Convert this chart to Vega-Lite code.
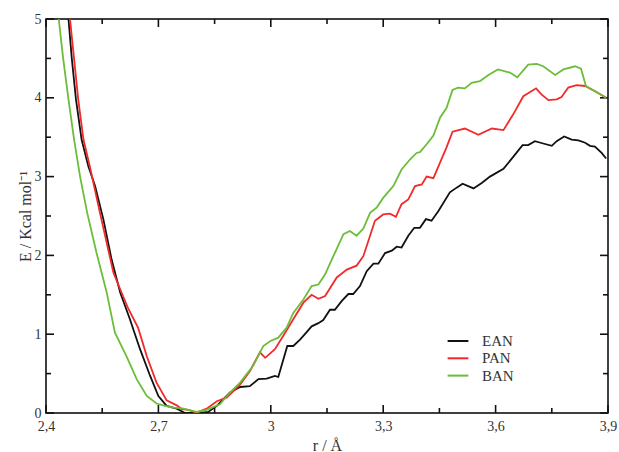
{
  "$schema": "https://vega.github.io/schema/vega-lite/v6.json",
  "width": 562,
  "height": 394,
  "autosize": "none",
  "padding": {"left": 46, "top": 19, "right": 11, "bottom": 39},
  "background": "white",
  "config": {
    "view": {"stroke": "#000", "strokeWidth": 1.5},
    "font": "'Liberation Serif', 'Times New Roman', serif",
    "axis": {"labelFont": "'Liberation Serif', 'Times New Roman', serif", "titleFont": "'Liberation Serif', 'Times New Roman', serif", "labelColor": "#333", "titleColor": "#333", "titleFontWeight": "normal", "grid": false, "domain": false, "ticks": false},
    "legend": {"labelFont": "'Liberation Serif', 'Times New Roman', serif"}
  },
  "datasets": {
    "xt": [{"v":2.4,"k":"major"},{"v":2.55,"k":"minor"},{"v":2.7,"k":"major"},{"v":2.85,"k":"minor"},{"v":3.0,"k":"major"},{"v":3.15,"k":"minor"},{"v":3.3,"k":"major"},{"v":3.45,"k":"minor"},{"v":3.6,"k":"major"},{"v":3.75,"k":"minor"},{"v":3.9,"k":"major"}],
    "yt": [{"v":0,"k":"major"},{"v":0.5,"k":"minor"},{"v":1,"k":"major"},{"v":1.5,"k":"minor"},{"v":2,"k":"major"},{"v":2.5,"k":"minor"},{"v":3,"k":"major"},{"v":3.5,"k":"minor"},{"v":4,"k":"major"},{"v":4.5,"k":"minor"},{"v":5,"k":"major"}],
    "curves": [
    {"r":2.46,"E":5.0,"s":"EAN"},{"r":2.469,"E":4.49,"s":"EAN"},{"r":2.48,"E":3.98,"s":"EAN"},{"r":2.495,"E":3.47,"s":"EAN"},{"r":2.513,"E":3.13,"s":"EAN"},{"r":2.531,"E":2.88,"s":"EAN"},{"r":2.553,"E":2.46,"s":"EAN"},{"r":2.575,"E":1.95,"s":"EAN"},{"r":2.598,"E":1.53,"s":"EAN"},{"r":2.624,"E":1.19,"s":"EAN"},{"r":2.651,"E":0.81,"s":"EAN"},{"r":2.678,"E":0.47,"s":"EAN"},{"r":2.70,"E":0.216,"s":"EAN"},{"r":2.722,"E":0.09,"s":"EAN"},{"r":2.749,"E":0.055,"s":"EAN"},{"r":2.771,"E":0.0,"s":"EAN"},{"r":2.811,"E":0.0,"s":"EAN"},{"r":2.833,"E":0.013,"s":"EAN"},{"r":2.856,"E":0.09,"s":"EAN"},{"r":2.891,"E":0.26,"s":"EAN"},{"r":2.918,"E":0.33,"s":"EAN"},{"r":2.944,"E":0.34,"s":"EAN"},{"r":2.967,"E":0.43,"s":"EAN"},{"r":2.989,"E":0.435,"s":"EAN"},{"r":3.011,"E":0.47,"s":"EAN"},{"r":3.02,"E":0.457,"s":"EAN"},{"r":3.044,"E":0.85,"s":"EAN"},{"r":3.06,"E":0.85,"s":"EAN"},{"r":3.078,"E":0.93,"s":"EAN"},{"r":3.091,"E":1.0,"s":"EAN"},{"r":3.109,"E":1.10,"s":"EAN"},{"r":3.127,"E":1.14,"s":"EAN"},{"r":3.14,"E":1.18,"s":"EAN"},{"r":3.158,"E":1.31,"s":"EAN"},{"r":3.171,"E":1.31,"s":"EAN"},{"r":3.189,"E":1.42,"s":"EAN"},{"r":3.207,"E":1.51,"s":"EAN"},{"r":3.22,"E":1.51,"s":"EAN"},{"r":3.238,"E":1.61,"s":"EAN"},{"r":3.256,"E":1.80,"s":"EAN"},{"r":3.274,"E":1.895,"s":"EAN"},{"r":3.287,"E":1.895,"s":"EAN"},{"r":3.305,"E":2.03,"s":"EAN"},{"r":3.323,"E":2.06,"s":"EAN"},{"r":3.336,"E":2.11,"s":"EAN"},{"r":3.349,"E":2.10,"s":"EAN"},{"r":3.367,"E":2.25,"s":"EAN"},{"r":3.383,"E":2.35,"s":"EAN"},{"r":3.398,"E":2.35,"s":"EAN"},{"r":3.414,"E":2.46,"s":"EAN"},{"r":3.429,"E":2.44,"s":"EAN"},{"r":3.447,"E":2.56,"s":"EAN"},{"r":3.478,"E":2.80,"s":"EAN"},{"r":3.496,"E":2.86,"s":"EAN"},{"r":3.512,"E":2.91,"s":"EAN"},{"r":3.541,"E":2.85,"s":"EAN"},{"r":3.563,"E":2.92,"s":"EAN"},{"r":3.585,"E":3.0,"s":"EAN"},{"r":3.621,"E":3.10,"s":"EAN"},{"r":3.647,"E":3.25,"s":"EAN"},{"r":3.672,"E":3.40,"s":"EAN"},{"r":3.687,"E":3.40,"s":"EAN"},{"r":3.705,"E":3.45,"s":"EAN"},{"r":3.727,"E":3.42,"s":"EAN"},{"r":3.75,"E":3.39,"s":"EAN"},{"r":3.763,"E":3.45,"s":"EAN"},{"r":3.783,"E":3.51,"s":"EAN"},{"r":3.803,"E":3.47,"s":"EAN"},{"r":3.821,"E":3.46,"s":"EAN"},{"r":3.839,"E":3.43,"s":"EAN"},{"r":3.852,"E":3.39,"s":"EAN"},{"r":3.865,"E":3.38,"s":"EAN"},{"r":3.883,"E":3.30,"s":"EAN"},{"r":3.895,"E":3.23,"s":"EAN"},
    {"r":2.464,"E":5.0,"s":"PAN"},{"r":2.475,"E":4.49,"s":"PAN"},{"r":2.486,"E":3.98,"s":"PAN"},{"r":2.50,"E":3.47,"s":"PAN"},{"r":2.517,"E":3.13,"s":"PAN"},{"r":2.544,"E":2.54,"s":"PAN"},{"r":2.562,"E":2.16,"s":"PAN"},{"r":2.58,"E":1.78,"s":"PAN"},{"r":2.598,"E":1.57,"s":"PAN"},{"r":2.62,"E":1.32,"s":"PAN"},{"r":2.646,"E":1.08,"s":"PAN"},{"r":2.669,"E":0.72,"s":"PAN"},{"r":2.695,"E":0.385,"s":"PAN"},{"r":2.722,"E":0.16,"s":"PAN"},{"r":2.749,"E":0.097,"s":"PAN"},{"r":2.762,"E":0.05,"s":"PAN"},{"r":2.78,"E":0.04,"s":"PAN"},{"r":2.802,"E":0.005,"s":"PAN"},{"r":2.829,"E":0.055,"s":"PAN"},{"r":2.856,"E":0.15,"s":"PAN"},{"r":2.882,"E":0.195,"s":"PAN"},{"r":2.918,"E":0.36,"s":"PAN"},{"r":2.944,"E":0.53,"s":"PAN"},{"r":2.971,"E":0.77,"s":"PAN"},{"r":2.985,"E":0.70,"s":"PAN"},{"r":3.011,"E":0.81,"s":"PAN"},{"r":3.033,"E":0.977,"s":"PAN"},{"r":3.06,"E":1.19,"s":"PAN"},{"r":3.087,"E":1.40,"s":"PAN"},{"r":3.109,"E":1.50,"s":"PAN"},{"r":3.127,"E":1.45,"s":"PAN"},{"r":3.145,"E":1.485,"s":"PAN"},{"r":3.176,"E":1.72,"s":"PAN"},{"r":3.203,"E":1.82,"s":"PAN"},{"r":3.229,"E":1.87,"s":"PAN"},{"r":3.247,"E":1.99,"s":"PAN"},{"r":3.278,"E":2.44,"s":"PAN"},{"r":3.30,"E":2.52,"s":"PAN"},{"r":3.318,"E":2.53,"s":"PAN"},{"r":3.334,"E":2.49,"s":"PAN"},{"r":3.349,"E":2.65,"s":"PAN"},{"r":3.367,"E":2.71,"s":"PAN"},{"r":3.385,"E":2.88,"s":"PAN"},{"r":3.403,"E":2.90,"s":"PAN"},{"r":3.416,"E":3.0,"s":"PAN"},{"r":3.434,"E":2.98,"s":"PAN"},{"r":3.452,"E":3.18,"s":"PAN"},{"r":3.469,"E":3.37,"s":"PAN"},{"r":3.485,"E":3.57,"s":"PAN"},{"r":3.518,"E":3.61,"s":"PAN"},{"r":3.554,"E":3.53,"s":"PAN"},{"r":3.59,"E":3.61,"s":"PAN"},{"r":3.621,"E":3.59,"s":"PAN"},{"r":3.647,"E":3.79,"s":"PAN"},{"r":3.674,"E":4.02,"s":"PAN"},{"r":3.708,"E":4.12,"s":"PAN"},{"r":3.723,"E":4.04,"s":"PAN"},{"r":3.741,"E":3.97,"s":"PAN"},{"r":3.763,"E":3.98,"s":"PAN"},{"r":3.776,"E":4.01,"s":"PAN"},{"r":3.794,"E":4.13,"s":"PAN"},{"r":3.816,"E":4.16,"s":"PAN"},{"r":3.839,"E":4.15,"s":"PAN"},{"r":3.87,"E":4.07,"s":"PAN"},{"r":3.895,"E":4.00,"s":"PAN"},
    {"r":2.434,"E":5.0,"s":"BAN"},{"r":2.446,"E":4.49,"s":"BAN"},{"r":2.46,"E":3.98,"s":"BAN"},{"r":2.475,"E":3.47,"s":"BAN"},{"r":2.491,"E":3.0,"s":"BAN"},{"r":2.51,"E":2.54,"s":"BAN"},{"r":2.535,"E":2.03,"s":"BAN"},{"r":2.562,"E":1.53,"s":"BAN"},{"r":2.584,"E":1.02,"s":"BAN"},{"r":2.615,"E":0.72,"s":"BAN"},{"r":2.642,"E":0.43,"s":"BAN"},{"r":2.669,"E":0.216,"s":"BAN"},{"r":2.695,"E":0.12,"s":"BAN"},{"r":2.715,"E":0.095,"s":"BAN"},{"r":2.74,"E":0.068,"s":"BAN"},{"r":2.767,"E":0.055,"s":"BAN"},{"r":2.802,"E":0.013,"s":"BAN"},{"r":2.829,"E":0.04,"s":"BAN"},{"r":2.864,"E":0.11,"s":"BAN"},{"r":2.891,"E":0.26,"s":"BAN"},{"r":2.918,"E":0.385,"s":"BAN"},{"r":2.953,"E":0.60,"s":"BAN"},{"r":2.98,"E":0.85,"s":"BAN"},{"r":2.998,"E":0.91,"s":"BAN"},{"r":3.02,"E":0.956,"s":"BAN"},{"r":3.042,"E":1.08,"s":"BAN"},{"r":3.06,"E":1.27,"s":"BAN"},{"r":3.087,"E":1.44,"s":"BAN"},{"r":3.109,"E":1.61,"s":"BAN"},{"r":3.127,"E":1.63,"s":"BAN"},{"r":3.145,"E":1.76,"s":"BAN"},{"r":3.167,"E":1.99,"s":"BAN"},{"r":3.194,"E":2.27,"s":"BAN"},{"r":3.211,"E":2.31,"s":"BAN"},{"r":3.229,"E":2.25,"s":"BAN"},{"r":3.247,"E":2.34,"s":"BAN"},{"r":3.265,"E":2.54,"s":"BAN"},{"r":3.283,"E":2.61,"s":"BAN"},{"r":3.30,"E":2.73,"s":"BAN"},{"r":3.327,"E":2.88,"s":"BAN"},{"r":3.349,"E":3.09,"s":"BAN"},{"r":3.372,"E":3.22,"s":"BAN"},{"r":3.389,"E":3.30,"s":"BAN"},{"r":3.398,"E":3.31,"s":"BAN"},{"r":3.416,"E":3.41,"s":"BAN"},{"r":3.434,"E":3.52,"s":"BAN"},{"r":3.452,"E":3.75,"s":"BAN"},{"r":3.469,"E":3.87,"s":"BAN"},{"r":3.485,"E":4.10,"s":"BAN"},{"r":3.50,"E":4.13,"s":"BAN"},{"r":3.518,"E":4.12,"s":"BAN"},{"r":3.536,"E":4.19,"s":"BAN"},{"r":3.558,"E":4.21,"s":"BAN"},{"r":3.581,"E":4.29,"s":"BAN"},{"r":3.606,"E":4.36,"s":"BAN"},{"r":3.638,"E":4.32,"s":"BAN"},{"r":3.658,"E":4.26,"s":"BAN"},{"r":3.687,"E":4.42,"s":"BAN"},{"r":3.71,"E":4.43,"s":"BAN"},{"r":3.727,"E":4.40,"s":"BAN"},{"r":3.759,"E":4.29,"s":"BAN"},{"r":3.781,"E":4.36,"s":"BAN"},{"r":3.812,"E":4.40,"s":"BAN"},{"r":3.828,"E":4.37,"s":"BAN"},{"r":3.841,"E":4.15,"s":"BAN"},{"r":3.87,"E":4.07,"s":"BAN"},{"r":3.895,"E":4.00,"s":"BAN"}
  ]},
  "layer": [
    {
      "data": {"name": "xt"},
      "mark": {"type": "point", "shape": "M0,0V-1", "filled": false, "stroke": "#111", "strokeWidth": 1.6, "opacity": 1},
      "encoding": {
        "x": {"field": "v", "type": "quantitative", "title": "r / Å"},
        "y": {"datum": 0, "type": "quantitative"},
        "size": {"condition": {"test": "datum.k == 'minor'", "value": 100}, "value": 256}
      }
    },
    {
      "data": {"name": "xt"},
      "mark": {"type": "point", "shape": "M0,0V1", "filled": false, "stroke": "#111", "strokeWidth": 1.6, "opacity": 1},
      "encoding": {
        "x": {"field": "v", "type": "quantitative", "title": "r / Å"},
        "y": {"datum": 5, "type": "quantitative"},
        "size": {"condition": {"test": "datum.k == 'minor'", "value": 100}, "value": 256}
      }
    },
    {
      "data": {"name": "yt"},
      "mark": {"type": "point", "shape": "M0,0H1", "filled": false, "stroke": "#111", "strokeWidth": 1.6, "opacity": 1},
      "encoding": {
        "y": {"field": "v", "type": "quantitative", "title": "E / Kcal mol⁻¹"},
        "x": {"datum": 2.4, "type": "quantitative"},
        "size": {"condition": {"test": "datum.k == 'minor'", "value": 100}, "value": 256}
      }
    },
    {
      "data": {"name": "yt"},
      "mark": {"type": "point", "shape": "M0,0H-1", "filled": false, "stroke": "#111", "strokeWidth": 1.6, "opacity": 1},
      "encoding": {
        "y": {"field": "v", "type": "quantitative", "title": "E / Kcal mol⁻¹"},
        "x": {"datum": 3.9, "type": "quantitative"},
        "size": {"condition": {"test": "datum.k == 'minor'", "value": 100}, "value": 256}
      }
    },
    {
      "data": {"name": "curves"},
      "mark": {"type": "line", "strokeWidth": 1.8, "clip": true},
      "encoding": {
        "x": {"field": "r", "type": "quantitative", "title": "r / Å", "scale": {"domain": [2.4, 3.9], "nice": false, "zero": false},
          "axis": {"orient": "bottom", "values": [2.4,2.7,3,3.3,3.6,3.9], "title": "r / Å", "titleFontSize": 16, "titlePadding": 4, "labelFontSize": 14, "labelPadding": 6, "labelFlush": false,
            "labelExpr": "replace(toString(datum.value), '.', ',')"}},
        "y": {"field": "E", "type": "quantitative", "title": "E / Kcal mol⁻¹", "scale": {"domain": [0, 5], "nice": false},
          "axis": {"orient": "left", "values": [0,1,2,3,4,5], "title": "E / Kcal mol⁻¹", "titleFontSize": 16, "titlePadding": 1, "labelFontSize": 14, "labelPadding": 5,
            "labelExpr": "toString(datum.value)"}},
        "color": {"field": "s", "type": "nominal", "sort": ["EAN", "PAN", "BAN"],
          "scale": {"domain": ["EAN", "PAN", "BAN"], "range": ["#111111", "#f22a2a", "#6cbd3a"]},
          "legend": {"title": null, "orient": "none", "legendX": 403, "legendY": 313, "symbolType": "M-1.3,0H1.3", "symbolSize": 256, "symbolStrokeWidth": 2, "labelFontSize": 15, "labelColor": "#333", "labelOffset": 15, "rowPadding": 0.3, "padding": 0}}
      }
    }
  ]
}
